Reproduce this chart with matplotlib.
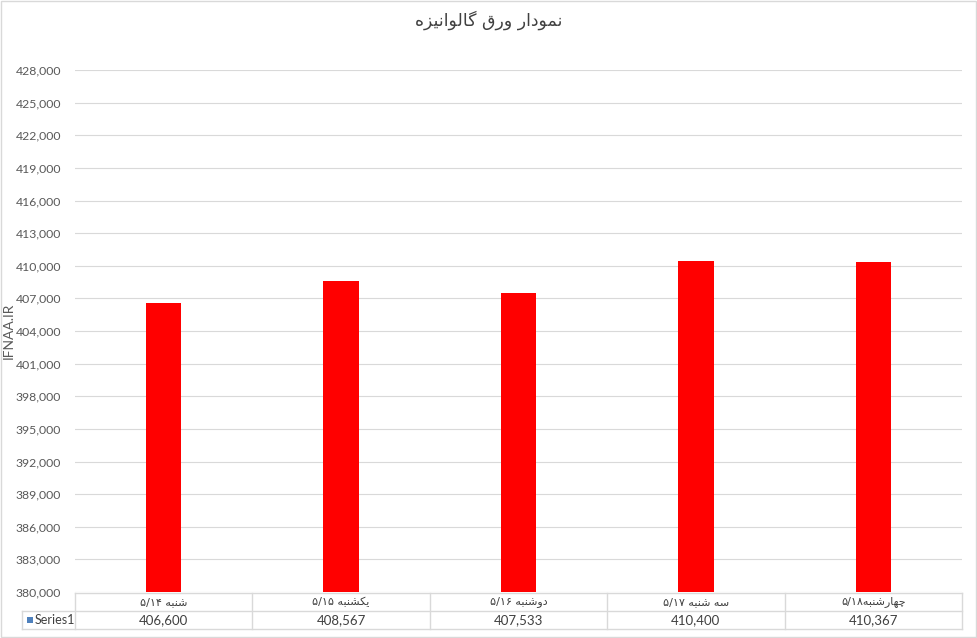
import matplotlib.pyplot as plt
import matplotlib.patches as mpatches
import numpy as np

title = "نمودار ورق گالوانیزه"
categories = ["شنبه ۵/۱۴", "یکشنبه ۵/۱۵", "دوشنبه ۵/۱۶", "سه شنبه ۵/۱۷", "چهارشنبه۵/۱۸"]
values = [406600, 408567, 407533, 410400, 410367]
series_name = "Series1"
y_label = "IFNAA.IR"
y_min, y_max, y_step = 380000, 428000, 3000

# contextual forms: isolated, final, initial, medial
FORMS = {
    "ا": (0xFE8D, 0xFE8E, None, None),
    "ب": (0xFE8F, 0xFE90, 0xFE91, 0xFE92),
    "د": (0xFEA9, 0xFEAA, None, None),
    "ر": (0xFEAD, 0xFEAE, None, None),
    "ز": (0xFEAF, 0xFEB0, None, None),
    "س": (0xFEB1, 0xFEB2, 0xFEB3, 0xFEB4),
    "ش": (0xFEB5, 0xFEB6, 0xFEB7, 0xFEB8),
    "ق": (0xFED5, 0xFED6, 0xFED7, 0xFED8),
    "ل": (0xFEDD, 0xFEDE, 0xFEDF, 0xFEE0),
    "م": (0xFEE1, 0xFEE2, 0xFEE3, 0xFEE4),
    "ن": (0xFEE5, 0xFEE6, 0xFEE7, 0xFEE8),
    "ه": (0xFEE9, 0xFEEA, 0xFEEB, 0xFEEC),
    "و": (0xFEED, 0xFEEE, None, None),
    "چ": (0xFB7A, 0xFB7B, 0xFB7C, 0xFB7D),
    "ک": (0xFB8E, 0xFB8F, 0xFB90, 0xFB91),
    "گ": (0xFB92, 0xFB93, 0xFB94, 0xFB95),
    "ی": (0xFBFC, 0xFBFD, 0xFBFE, 0xFBFF),
}


def shape(word):
    out = []
    for i, ch in enumerate(word):
        if ch not in FORMS:
            out.append(ch)
            continue
        prev = word[i - 1] if i > 0 else ""
        nxt = word[i + 1] if i + 1 < len(word) else ""
        joins_prev = prev in FORMS and FORMS[prev][2] is not None
        joins_next = nxt in FORMS and FORMS[ch][2] is not None
        iso, fin, ini, med = FORMS[ch]
        if joins_prev and joins_next:
            cp = med
        elif joins_prev:
            cp = fin
        elif joins_next:
            cp = ini
        else:
            cp = iso
        out.append(chr(cp))
    return "".join(out)


def rtl(text):
    # split into arabic runs and number runs, then lay out right to left
    runs = []
    for ch in text:
        is_num = ch in "۰۱۲۳۴۵۶۷۸۹/0123456789"
        if runs and runs[-1][0] == is_num:
            runs[-1][1] += ch
        else:
            runs.append([is_num, ch])
    parts = []
    for is_num, s in reversed(runs):
        parts.append(s if is_num else shape(s)[::-1])
    return "".join(parts)


plt.rcParams["font.family"] = ["Lato", "DejaVu Sans"]
fig = plt.figure(figsize=(9.77, 6.38), dpi=100)
fig.patches.append(mpatches.Rectangle((0.001, 0.002), 0.998, 0.996, transform=fig.transFigure,
                                      fill=False, edgecolor="#D9D9D9", linewidth=1))
ax = fig.add_axes([75 / 977, 46 / 638, 887 / 977, 522 / 638])

x = np.arange(len(categories))
ax.bar(x, values, width=0.2, color="#FF0000", zorder=3)
ax.set_xlim(-0.5, len(categories) - 0.5)
ax.set_ylim(y_min, y_max)
ticks = np.arange(y_min, y_max + 1, y_step)
ax.set_yticks(ticks)
ax.set_yticklabels([f"{t:,}" for t in ticks], fontsize=8.8, color="#595959")
ax.tick_params(axis="y", length=0, pad=10)
ax.set_xticks([])
ax.grid(axis="y", color="#D9D9D9", linewidth=0.8, zorder=0)
for s in ax.spines.values():
    s.set_visible(False)
ax.set_ylabel(y_label, fontsize=10, color="#595959")
ax.yaxis.set_label_coords(-0.068, 0.5)

fig.text(0.5, 1 - 20 / 638, rtl(title), ha="center", va="center", fontsize=12.5,
         color="#404040", family=["DejaVu Sans"])

# data table under the axes
line_kw = dict(color="#D9D9D9", linewidth=1, transform=fig.transFigure, clip_on=False)
px = lambda v: v / 977
py = lambda v: 1 - v / 638
left, right = 75, 962
top, mid, bot = 593, 611, 629
head_left = 22
col_w = (right - left) / len(categories)
fig.add_artist(plt.Line2D([px(left), px(right)], [py(top), py(top)], **line_kw))
fig.add_artist(plt.Line2D([px(head_left), px(right)], [py(mid), py(mid)], **line_kw))
fig.add_artist(plt.Line2D([px(head_left), px(right)], [py(bot), py(bot)], **line_kw))
fig.add_artist(plt.Line2D([px(head_left), px(head_left)], [py(mid), py(bot)], **line_kw))
for i in range(len(categories) + 1):
    xc = left + i * col_w
    fig.add_artist(plt.Line2D([px(xc), px(xc)], [py(top), py(bot)], **line_kw))
for i, (c, v) in enumerate(zip(categories, values)):
    xc = left + (i + 0.5) * col_w
    fig.text(px(xc), py((top + mid) / 2), rtl(c), ha="center", va="center", fontsize=8,
             color="#404040", family=["DejaVu Sans"])
    fig.text(px(xc), py((mid + bot) / 2), f"{v:,}", ha="center", va="center", fontsize=9.5, color="#404040")
fig.patches.append(mpatches.Rectangle((px(27), py(623)), px(6), 6 / 638, transform=fig.transFigure,
                                      facecolor="#4F81BD", edgecolor="none"))
fig.text(px(35), py((mid + bot) / 2), series_name, ha="left", va="center", fontsize=9, color="#404040")

fig.savefig("out.png", dpi=100)
